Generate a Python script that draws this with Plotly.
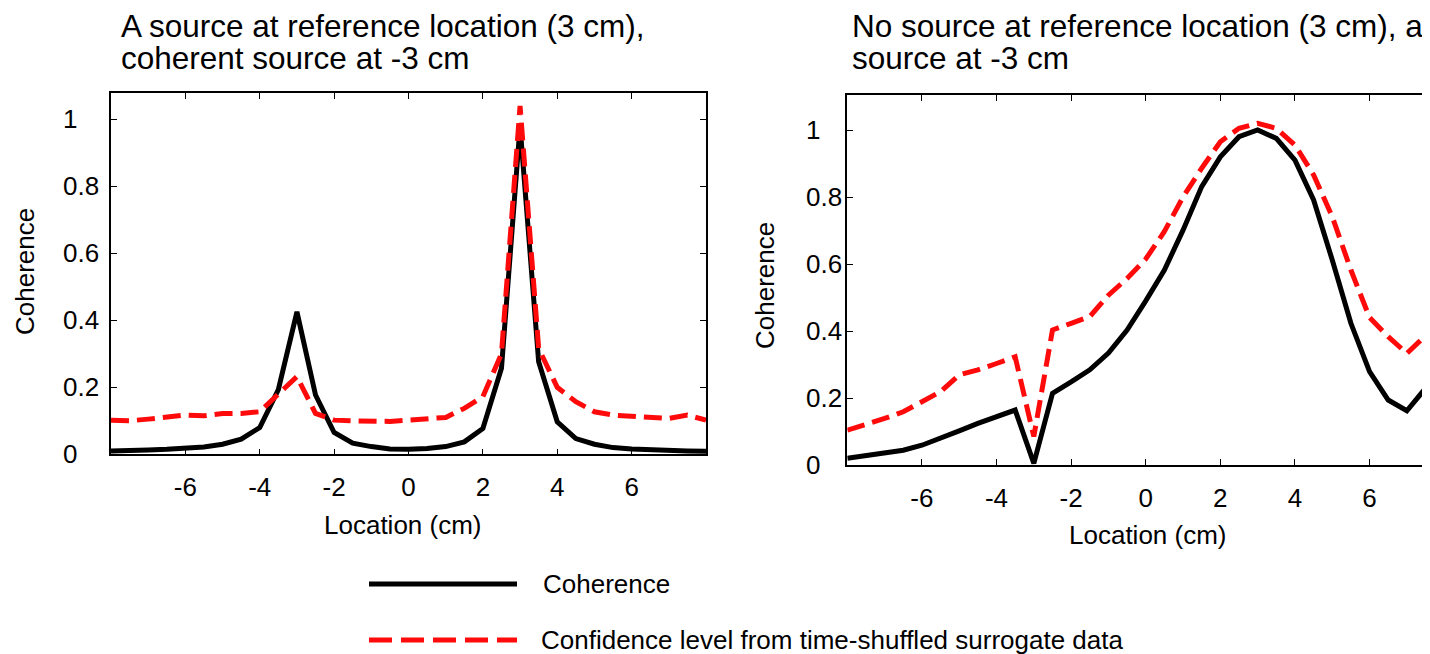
import plotly.graph_objects as go

# ---------------- data ----------------
location_cm = [-8, -7.5, -7, -6.5, -6, -5.5, -5, -4.5, -4, -3.5, -3, -2.5, -2, -1.5, -1, -0.5,
               0, 0.5, 1, 1.5, 2, 2.5, 3, 3.5, 4, 4.5, 5, 5.5, 6, 6.5, 7, 7.5, 8]

left_coherence = [0.010, 0.010, 0.013, 0.015, 0.018, 0.022, 0.030, 0.045, 0.080, 0.193, 0.425,
                  0.177, 0.065, 0.033, 0.023, 0.016, 0.015, 0.017, 0.023, 0.037, 0.077, 0.257,
                  0.980, 0.276, 0.097, 0.047, 0.030, 0.020, 0.016, 0.013, 0.011, 0.010, 0.009]
left_confidence = [0.102, 0.100, 0.105, 0.110, 0.117, 0.115, 0.122, 0.122, 0.127, 0.180, 0.232,
                   0.122, 0.102, 0.100, 0.100, 0.098, 0.102, 0.107, 0.110, 0.137, 0.172, 0.300,
                   1.040, 0.316, 0.200, 0.157, 0.127, 0.117, 0.114, 0.112, 0.107, 0.117, 0.102]

right_coherence = [0.020, 0.027, 0.034, 0.044, 0.059, 0.079, 0.102, 0.124, 0.144, 0.164, 0.005,
                   0.214, 0.248, 0.284, 0.334, 0.403, 0.490, 0.582, 0.701, 0.831, 0.920, 0.980,
                   1.000, 0.975, 0.910, 0.791, 0.612, 0.423, 0.279, 0.194, 0.162, 0.229, 0.290]
right_confidence = [0.104, 0.121, 0.139, 0.159, 0.189, 0.219, 0.269, 0.284, 0.303, 0.323, 0.085,
                    0.403, 0.423, 0.443, 0.507, 0.557, 0.615, 0.697, 0.800, 0.886, 0.965, 1.005,
                    1.020, 1.005, 0.955, 0.866, 0.741, 0.582, 0.440, 0.383, 0.333, 0.388, 0.440]

x_tick_values = [-6, -4, -2, 0, 2, 4, 6]
x_tick_labels = ["-6", "-4", "-2", "0", "2", "4", "6"]
y_tick_values = [0, 0.2, 0.4, 0.6, 0.8, 1]
y_tick_labels = ["0", "0.2", "0.4", "0.6", "0.8", "1"]

left_title = ["A source at reference location (3 cm),", "coherent source at -3 cm"]
right_title = ["No source at reference location (3 cm), a", "source at -3 cm"]
x_label = "Location (cm)"
y_label = "Coherence"
legend_labels = ["Coherence", "Confidence level from time-shuffled surrogate data"]

# ---------------- style ----------------
FONT = "Liberation Sans, Arial, Helvetica, sans-serif"
PAGE_MARGIN = 8           # default body margin of the written html page
W, H = 1430 - PAGE_MARGIN, 654 - PAGE_MARGIN
BLACK = "#000000"
RED = "#ff0a0a"
DASH = "18px,8px"


def px_x(p):
    """window pixel -> paper x"""
    return (p - PAGE_MARGIN) / W


def px_y(p):
    """window pixel -> paper y"""
    return 1 - (p - PAGE_MARGIN) / H


fig = go.Figure()

for xa, ya, coh, conf in [("x", "y", left_coherence, left_confidence),
                          ("x2", "y2", right_coherence, right_confidence)]:
    fig.add_trace(go.Scatter(x=location_cm, y=coh, mode="lines", xaxis=xa, yaxis=ya,
                             line=dict(color=BLACK, width=5), showlegend=False,
                             hoverinfo="skip"))
    fig.add_trace(go.Scatter(x=location_cm, y=conf, mode="lines", xaxis=xa, yaxis=ya,
                             line=dict(color=RED, width=5, dash=DASH), showlegend=False,
                             hoverinfo="skip"))

axis_common = dict(showgrid=False, zeroline=False, showline=True, linecolor=BLACK,
                   linewidth=1.6, ticks="inside", ticklen=6, tickwidth=1, tickcolor=BLACK)

fig.update_layout(
    width=W, height=H, autosize=False,
    margin=dict(l=0, r=0, t=0, b=0),
    paper_bgcolor="white", plot_bgcolor="white",
    font=dict(family=FONT, size=26, color=BLACK),
    showlegend=False,
    xaxis=dict(domain=[px_x(111), px_x(706)], range=[-8, 8], anchor="y",
               tickvals=x_tick_values, ticktext=x_tick_labels, mirror="ticks",
               ticklabelstandoff=9, tickfont=dict(size=26), **axis_common),
    yaxis=dict(domain=[px_y(454.3), px_y(93.3)], range=[0, 1.0776], anchor="x",
               tickvals=y_tick_values, showticklabels=False, mirror="ticks", **axis_common),
    xaxis2=dict(domain=[px_x(847.3), 1.0], range=[-8, 7.62], anchor="y2",
                tickvals=x_tick_values, ticktext=x_tick_labels, mirror="ticks",
                ticklabelstandoff=9, tickfont=dict(size=26), **axis_common),
    yaxis2=dict(domain=[px_y(465), px_y(94.7)], range=[0, 1.1054], anchor="x2",
                tickvals=y_tick_values, showticklabels=False, mirror=False, **axis_common),
)

ann = []
# y tick labels (left-aligned as in the reference)
for v, t in zip(y_tick_values, y_tick_labels):
    ann.append(dict(text=t, xref="paper", yref="y", x=px_x(61), y=v, xanchor="left",
                    yanchor="middle", showarrow=False, font=dict(size=26)))
    ann.append(dict(text=t, xref="paper", yref="y2", x=px_x(804), y=v, xanchor="left",
                    yanchor="middle", showarrow=False, font=dict(size=26)))

# titles (two lines each, tight line spacing)
for (x0, lines) in [(119, left_title), (850, right_title)]:
    for i, line in enumerate(lines):
        ann.append(dict(text=line, xref="paper", yref="paper", x=px_x(x0),
                        y=px_y(26 + 31.5 * i), xanchor="left", yanchor="middle",
                        showarrow=False, font=dict(size=31.5)))

# axis titles
ann.append(dict(text=x_label, xref="paper", yref="paper", x=px_x(403), y=px_y(525),
                xanchor="center", yanchor="middle", showarrow=False, font=dict(size=26)))
ann.append(dict(text=x_label, xref="paper", yref="paper", x=px_x(1148), y=px_y(535),
                xanchor="center", yanchor="middle", showarrow=False, font=dict(size=26)))
ann.append(dict(text=y_label, xref="paper", yref="paper", x=px_x(25), y=px_y(272),
                xanchor="center", yanchor="middle", textangle=-90, showarrow=False,
                font=dict(size=26)))
ann.append(dict(text=y_label, xref="paper", yref="paper", x=px_x(765), y=px_y(286),
                xanchor="center", yanchor="middle", textangle=-90, showarrow=False,
                font=dict(size=26)))

# legend text
ann.append(dict(text=legend_labels[0], xref="paper", yref="paper", x=px_x(541), y=px_y(584),
                xanchor="left", yanchor="middle", showarrow=False, font=dict(size=26)))
ann.append(dict(text=legend_labels[1], xref="paper", yref="paper", x=px_x(539), y=px_y(640),
                xanchor="left", yanchor="middle", showarrow=False, font=dict(size=26)))

fig.update_layout(annotations=ann)

# legend sample lines
fig.add_shape(type="line", xref="paper", yref="paper", x0=px_x(369), x1=px_x(517),
              y0=px_y(584), y1=px_y(584), line=dict(color=BLACK, width=5))
fig.add_shape(type="line", xref="paper", yref="paper", x0=px_x(369), x1=px_x(517),
              y0=px_y(640), y1=px_y(640), line=dict(color=RED, width=5, dash="23px,9px"))

fig.write_html("out.html")
